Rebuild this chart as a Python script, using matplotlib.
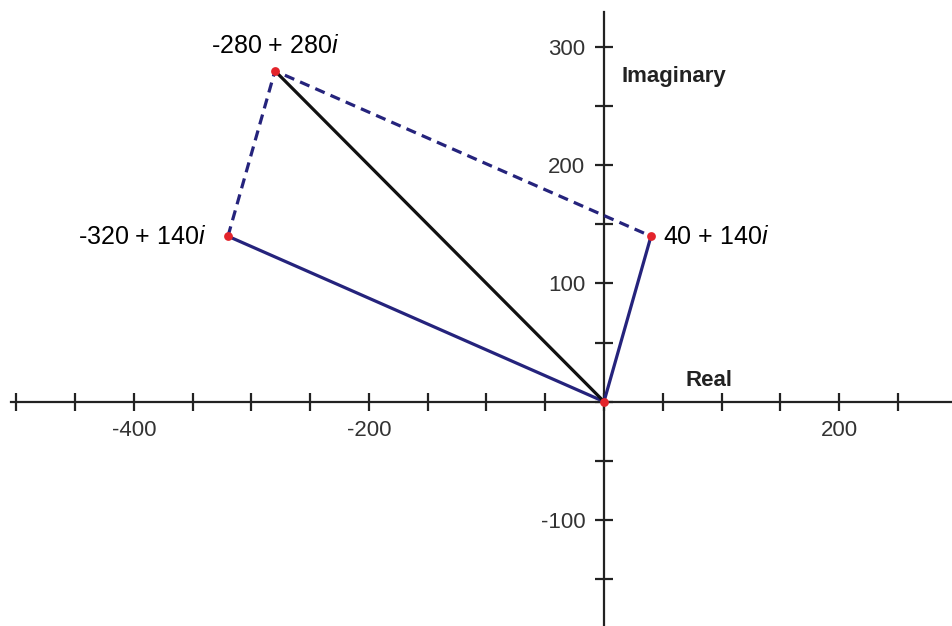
import numpy as np
import matplotlib.pyplot as plt

plt.rcParams['font.family'] = 'Liberation Sans'
plt.rcParams['mathtext.fontset'] = 'custom'
plt.rcParams['mathtext.rm'] = 'Liberation Sans'
plt.rcParams['mathtext.it'] = 'Liberation Sans:italic'
plt.rcParams['axes.unicode_minus'] = False

# complex numbers: z1, z1 + z2, z2
re_parts = [-320, -280, 40]
im_parts = [140, 280, 140]
point_labels = ['-320 + 140$i$', '-280 + 280$i$', '40 + 140$i$']

x_ticks = np.arange(-500, 251, 50)
x_ticklabels = ['-400' if t == -400 else '-200' if t == -200 else '200' if t == 200 else '' for t in x_ticks]
y_ticks = np.arange(-150, 301, 50)
y_ticklabels = [str(t) if t in (300, 200, 100, -100) else '' for t in y_ticks]

navy = '#25237c'

fig = plt.figure(figsize=(9.53, 6.26), dpi=100)
ax = fig.add_axes([0, 0, 1, 1])
ax.set_xlim(-514, 297)
ax.set_ylim(-190, 340)

# vectors from origin
ax.plot([0, re_parts[0]], [0, im_parts[0]], color=navy, lw=2.3, solid_capstyle='round', zorder=3)
ax.plot([0, re_parts[2]], [0, im_parts[2]], color=navy, lw=2.3, solid_capstyle='round', zorder=3)
ax.plot([0, re_parts[1]], [0, im_parts[1]], color='#111111', lw=2.3, solid_capstyle='round', zorder=3)

# parallelogram completion (dashed)
ax.plot(re_parts, im_parts, color=navy, lw=2.3, ls=(0, (3.2, 2.0)), zorder=3)

# points
ax.scatter(re_parts + [0], im_parts + [0], s=40, color='#e3242b', zorder=4, linewidths=0)

ax.text(re_parts[0] - 18, im_parts[0] - 1, point_labels[0], ha='right', va='center', fontsize=18)
ax.text(re_parts[1], im_parts[1] + 21, point_labels[1], ha='center', va='center', fontsize=18)
ax.text(re_parts[2] + 10, im_parts[2] - 1, point_labels[2], ha='left', va='center', fontsize=18)

ax.text(69, 18, 'Real', ha='left', va='center', fontsize=16, fontweight='bold', color='#222222')
ax.text(15, 275, 'Imaginary', ha='left', va='center', fontsize=16, fontweight='bold', color='#222222')

# axes through origin
for s in ['top', 'right']:
    ax.spines[s].set_visible(False)
ax.spines['left'].set_position(('data', 0))
ax.spines['bottom'].set_position(('data', 0))
ax.spines['left'].set_bounds(-190, 330)
ax.spines['bottom'].set_bounds(-505, 297)
for s in ['left', 'bottom']:
    ax.spines[s].set_linewidth(1.6)
    ax.spines[s].set_color('#222222')
    ax.spines[s].set_zorder(1)

ax.set_xticks(x_ticks)
ax.set_xticklabels(x_ticklabels)
ax.set_yticks(y_ticks)
ax.set_yticklabels(y_ticklabels)
ax.tick_params(direction='inout', length=13, width=1.6, color='#222222',
               labelsize=16, labelcolor='#333333', pad=7)
ax.patch.set_visible(False)

fig.savefig('out.png', dpi=100)
